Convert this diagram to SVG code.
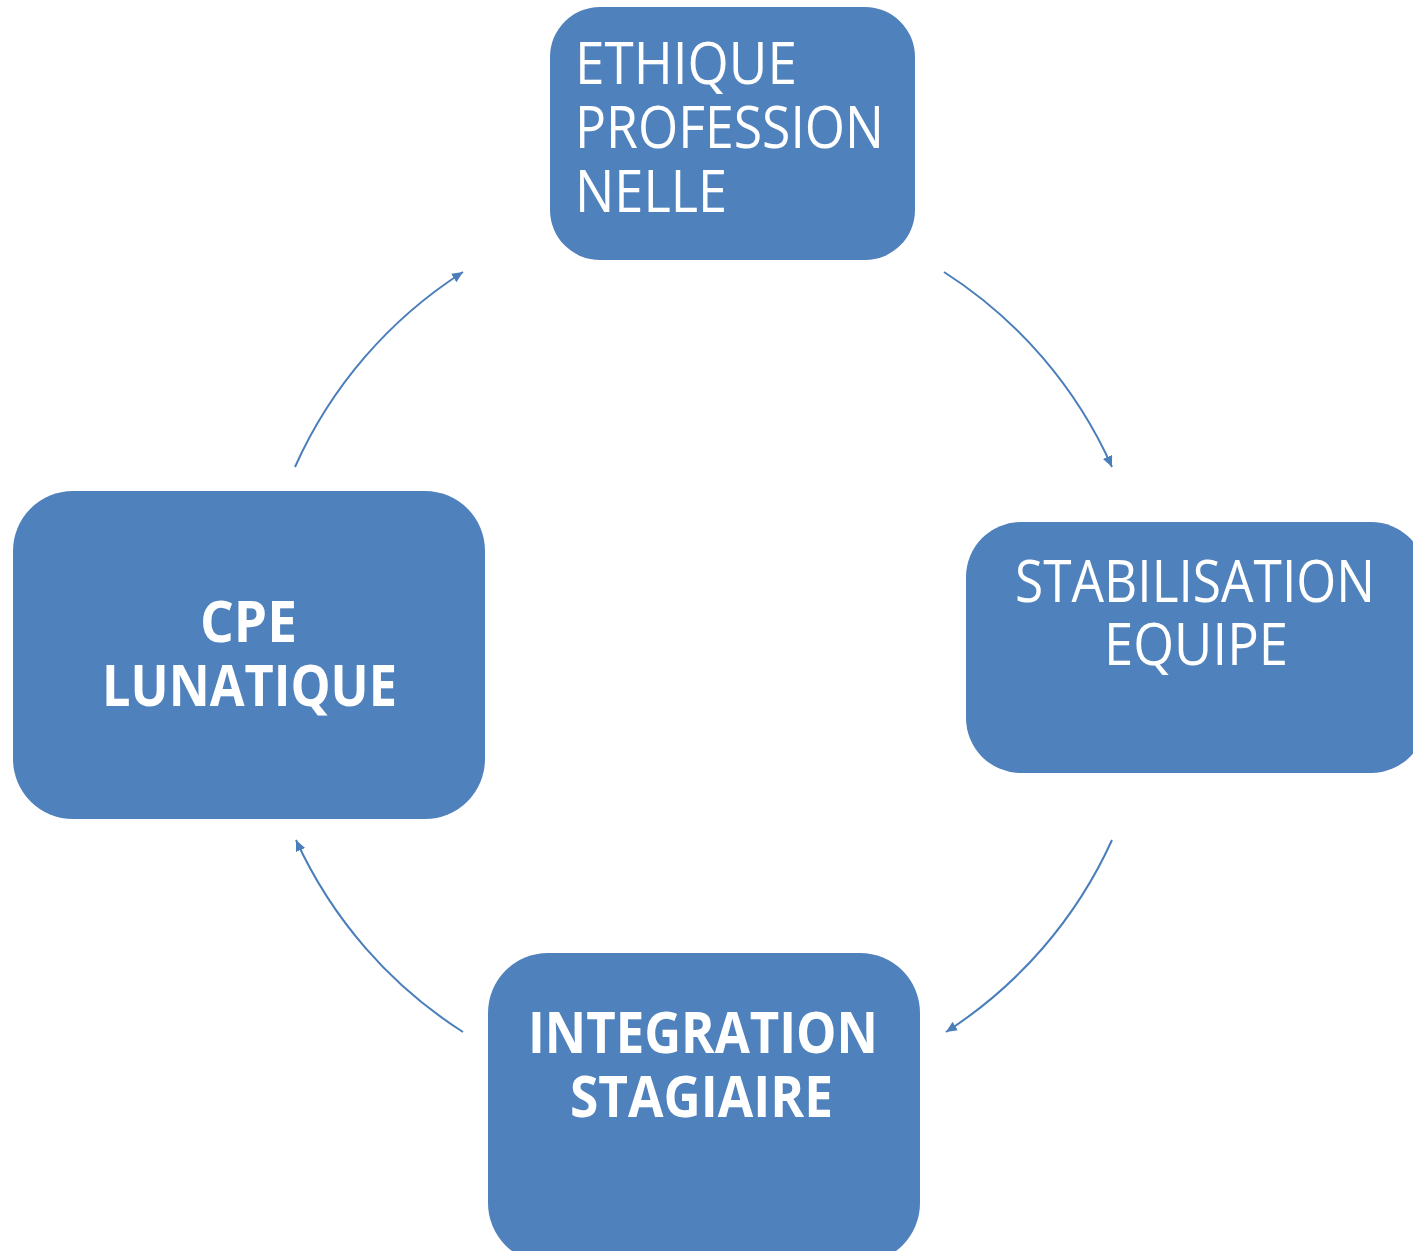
<svg xmlns="http://www.w3.org/2000/svg" width="1413" height="1251" viewBox="0 0 1413 1251">
<defs>
<style>
.box{fill:#4f81bd;}
.t{fill:#ffffff;font-family:"Open Sans","Noto Sans","Liberation Sans",sans-serif;font-size:58px;}
.b{font-weight:bold;}
.c{fill:none;stroke:#4a7ebb;stroke-width:2;}
</style>
<marker id="ah" markerUnits="userSpaceOnUse" markerWidth="14" markerHeight="12" refX="11" refY="5" orient="auto">
<path d="M0,0 L11,5 L0,10 Z" fill="#4a7ebb"/>
</marker>
</defs>
<rect width="1413" height="1251" fill="#ffffff"/>
<g id="connectors">
<path class="c" d="M944,272 A449,449 0 0 1 1112,467" marker-end="url(#ah)"/>
<path class="c" d="M1112,840 A449,449 0 0 1 946,1032" marker-end="url(#ah)"/>
<path class="c" d="M463,1032 A449,449 0 0 1 296,840" marker-end="url(#ah)"/>
<path class="c" d="M295,467 A449,449 0 0 1 463,272" marker-end="url(#ah)"/>
</g>
<g id="ethique">
<rect class="box" x="550" y="7" width="365" height="253" rx="50"/>
<text class="t" x="575" y="84" textLength="222" lengthAdjust="spacingAndGlyphs">ETHIQUE</text>
<text class="t" x="575" y="148" textLength="309" lengthAdjust="spacingAndGlyphs">PROFESSION</text>
<text class="t" x="575" y="212" textLength="152" lengthAdjust="spacingAndGlyphs">NELLE</text>
</g>
<g id="stabilisation">
<rect class="box" x="966" y="522" width="460" height="251" rx="55"/>
<text class="t" x="1015" y="602" textLength="360" lengthAdjust="spacingAndGlyphs">STABILISATION</text>
<text class="t" x="1104" y="665" textLength="184" lengthAdjust="spacingAndGlyphs">EQUIPE</text>
</g>
<g id="integration">
<rect class="box" x="488" y="953" width="432" height="310" rx="60"/>
<text class="t b" x="528" y="1053" textLength="350" lengthAdjust="spacingAndGlyphs">INTEGRATION</text>
<text class="t b" x="570" y="1117" textLength="263" lengthAdjust="spacingAndGlyphs">STAGIAIRE</text>
</g>
<g id="cpe">
<rect class="box" x="13" y="491" width="472" height="328" rx="60"/>
<text class="t b" x="200" y="642" textLength="97" lengthAdjust="spacingAndGlyphs">CPE</text>
<text class="t b" x="102" y="706" textLength="295" lengthAdjust="spacingAndGlyphs">LUNATIQUE</text>
</g>
</svg>
